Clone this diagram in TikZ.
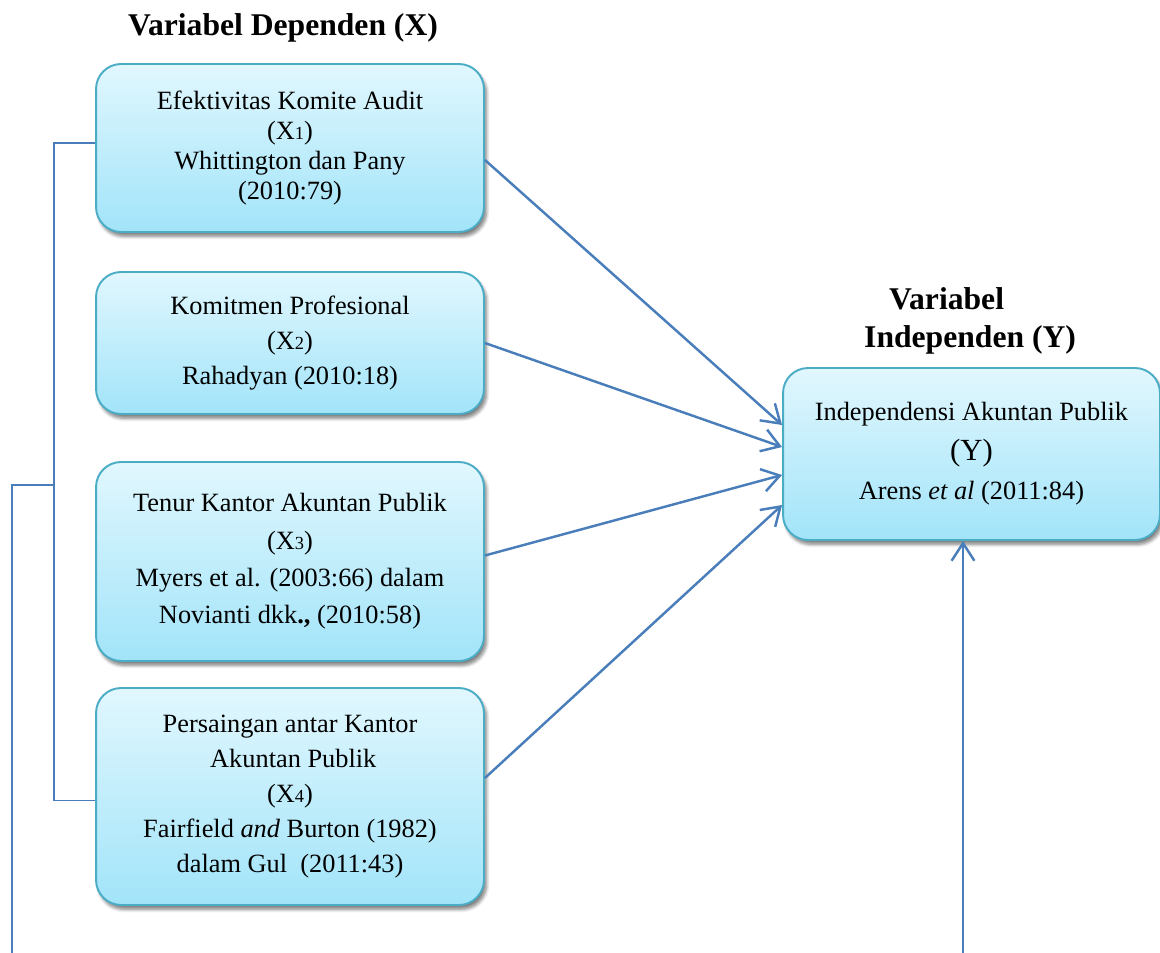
\documentclass[tikz,border=0pt]{standalone}
\usepackage{fontspec}
\setmainfont{Liberation Serif}
\usepackage{tikz}
\usetikzlibrary{arrows.meta,calc,positioning,shadows.blur}
\usepackage{xcolor}
\definecolor{VarLine}{HTML}{4A7EBB}
\definecolor{VarBorder}{HTML}{4BACC6}
\definecolor{VarTop}{HTML}{E1F7FE}
\definecolor{VarBottom}{HTML}{A2E4F9}
\newcommand{\sub}[1]{{\fontsize{10.5}{10.5}\selectfont #1}}

\begin{document}
\begin{tikzpicture}[
  x=0.02cm,
  y=-0.02cm,
  varbox/.style={
    draw=VarBorder,
    line width=1.1pt,
    top color=VarTop,
    bottom color=VarBottom,
    rounded corners=0.5cm,
    minimum width=7.76cm,
    align=center,
    font=\fontsize{15}{17}\selectfont,
    blur shadow={shadow xshift=1.5pt,shadow yshift=-2.5pt,shadow blur steps=6,shadow opacity=50}
  },
  vartitle/.style={
    align=center,
    font=\bfseries\fontsize{18}{21.5}\selectfont
  },
  link/.style={
    draw=VarLine,
    line width=1.1pt
  },
  effect/.style={
    link,
    line width=1.4pt,
    -{Straight Barb[length=10pt,width=13pt,line width=1.4pt]}
  }
]
\useasboundingbox (0,0) rectangle (1160,953);

\node[vartitle] (titlex) at (283,28) {Variabel Dependen (X)};
\node[vartitle,align=left,anchor=west] (titley) at (858,321)
  {\hspace*{0.5cm}Variabel\\ Independen (Y)};

\node[varbox,minimum height=3.36cm] (x1) at (290,148)
  {Efektivitas Komite Audit\\
   (X\sub{1})\\
   Whittington dan Pany\\
   (2010:79)};
\node[varbox,minimum height=2.84cm,font=\fontsize{15}{19.8}\selectfont] (x2) at (290,343)
  {Komitmen Profesional\\
   (X\sub{2})\\
   Rahadyan (2010:18)};
\node[varbox,minimum height=3.98cm,font=\fontsize{15}{21.3}\selectfont] (x3) at (290,561.5)
  {Tenur Kantor Akuntan Publik\\
   (X\sub{3})\\
   Myers et al. (2003:66) dalam\\
   Novianti dkk\textbf{.,} (2010:58)};
\node[varbox,minimum height=4.34cm,font=\fontsize{15}{19.8}\selectfont] (x4) at (290,796.5)
  {Persaingan antar Kantor\\
   \ Akuntan Publik\\
   (X\sub{4})\\
   Fairfield \textit{and} Burton (1982)\\
   dalam Gul\ \ (2011:43)};

\node[varbox,minimum width=7.54cm,minimum height=3.44cm,font=\fontsize{15}{22.5}\selectfont] (y) at (971.5,454)
  {Independensi Akuntan Publik\\
   {\fontsize{17.5}{17.5}\selectfont (Y)}\\
   Arens \textit{et al} (2011:84)};

\coordinate (brk) at (54,485);
\coordinate (tail) at (12,953);
\coordinate (ybot) at (963,953);

\draw[effect] ([yshift=-0.24cm]x1.east) -- ([yshift=0.58cm]y.west);
\draw[effect] (x2.east) -- ([yshift=0.14cm]y.west);
\draw[effect] ([yshift=0.12cm]x3.east) -- ([yshift=-0.42cm]y.west);
\draw[effect] ([yshift=0.37cm]x4.east) -- ([yshift=-1.02cm]y.west);
\draw[effect] (ybot) -- (ybot |- y.south);

\draw[link] ([yshift=0.1cm]x1.west) -| (brk) |- ([yshift=-0.08cm]x4.west);
\draw[link] (brk) -| (tail);

\end{tikzpicture}
\end{document}
